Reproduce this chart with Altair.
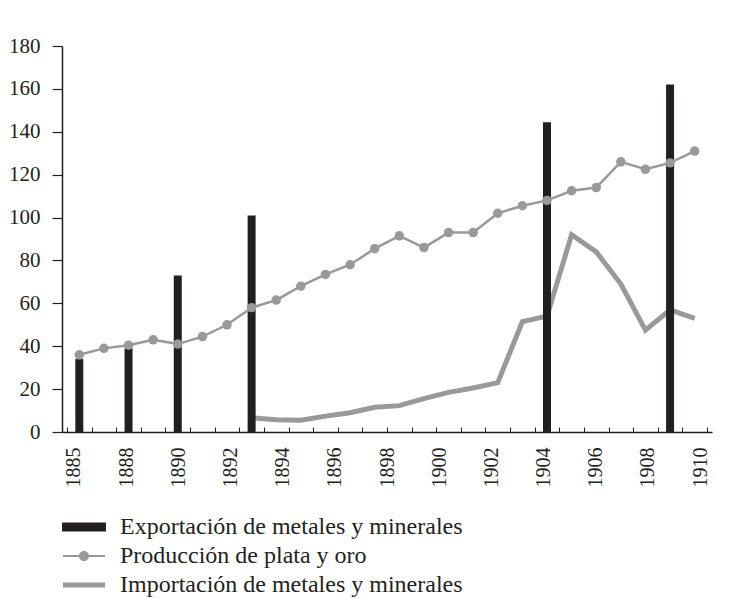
import altair as alt
import pandas as pd

# ---------------- data ----------------
indices = list(range(26))
tick_labels = ["1885", "1888", "1890", "1892", "1894", "1896", "1898",
               "1900", "1902", "1904", "1906", "1908", "1910"]

produccion = [36, 39, 40.5, 43, 41, 44.5, 50, 58, 61.5, 68, 73.5, 78, 85.5,
              91.5, 86, 93, 93, 102, 105.5, 108, 112.5, 114, 126, 122.5, 125.5, 131]

exportacion_idx = [0, 2, 4, 7, 19, 24]
exportacion = [34, 39, 73, 101, 144.5, 162]

importacion = [None] * 7 + [6.6, 5.7, 5.5, 7.4, 9, 11.5, 12.3, 15.6, 18.5, 20.5,
                            23, 51.5, 54, 92, 84, 69, 47.5, 57, 53]

S_EXP = "Exportación de metales y minerales"
S_PROD = "Producción de plata y oro"
S_IMP = "Importación de metales y minerales"
series = [S_EXP, S_PROD, S_IMP]

# ---------------- style ----------------
W, H = 650, 386
DARK = "#231f20"
GREY = "#999999"
FONT = "Liberation Serif"

prod_df = pd.DataFrame({"i": indices, "v": produccion})
exp_df = pd.DataFrame({"i": exportacion_idx, "v": exportacion})
imp_df = pd.DataFrame({"i": indices, "v": importacion}).dropna()
lab_df = pd.DataFrame({"label": tick_labels})
leg_df = pd.DataFrame({"serie": series})

xq = alt.X(
    "i:Q",
    scale=alt.Scale(domain=[-0.5, len(indices) - 0.5], nice=False, zero=False),
    axis=alt.Axis(orient="top", offset=-H, values=[k - 0.5 for k in range(len(indices) + 1)],
                  labels=False, domain=False, ticks=True, tickSize=5, tickColor=DARK,
                  tickWidth=1, grid=False, title=None),
)
yq = alt.Y(
    "v:Q",
    scale=alt.Scale(domain=[0, 180], nice=False),
    axis=alt.Axis(values=list(range(0, 181, 20)), tickSize=10, tickWidth=1.2,
                  labelPadding=12, domainColor=DARK, domainWidth=1.5, tickColor=DARK,
                  labelFont=FONT, labelColor=DARK,
                  labelFontSize=21, grid=False, title=None),
)

imp_line = alt.Chart(imp_df).mark_line(color=GREY, strokeWidth=5).encode(x=xq, y=yq)
bars = alt.Chart(exp_df).mark_bar(size=8, color=DARK).encode(x=xq, y=yq)
prod_line = alt.Chart(prod_df).mark_line(color=GREY, strokeWidth=2.5).encode(x=xq, y=yq)
prod_pts = alt.Chart(prod_df).mark_circle(color=GREY, size=90, opacity=1).encode(x=xq, y=yq)

main = alt.layer(imp_line, bars, prod_line, prod_pts)

labels_layer = alt.Chart(lab_df).mark_point(opacity=0).encode(
    x=alt.X("label:O", sort=None,
            scale=alt.Scale(type="point", padding=0.23),
            axis=alt.Axis(orient="bottom", labelAngle=270, ticks=False, domain=True,
                          domainColor=DARK, domainWidth=1.5, labelPadding=15,
                          labelFont=FONT, labelColor=DARK,
                          labelFontSize=20, title=None, grid=False))
)

paths = [
    "M-1.83,-0.38H1.83V0.38H-1.83Z",
    "M-1.75,-0.09H1.75V0.09H-1.75Z M0.42,0A0.42,0.42,0,1,1,-0.42,0A0.42,0.42,0,1,1,0.42,0Z",
    "M-1.75,-0.21H1.75V0.21H-1.75Z",
]

legend_def = alt.Legend(orient="none", legendX=10, legendY=469, title=None,
                        symbolSize=576, symbolStrokeWidth=0, symbolOpacity=1,
                        labelOffset=24, rowPadding=5, padding=0,
                        labelFont=FONT, labelFontSize=24, labelColor=DARK,
                        labelLimit=600)

legend_layer = alt.Chart(leg_df).transform_filter("false").mark_point(
    filled=True, opacity=1).encode(
    color=alt.Color("serie:N", scale=alt.Scale(domain=series, range=[DARK, GREY, GREY]),
                    legend=legend_def),
    shape=alt.Shape("serie:N", scale=alt.Scale(domain=series, range=paths),
                    legend=legend_def),
)

chart = alt.layer(main, labels_layer, legend_layer).resolve_scale(
    x="independent"
).properties(
    width=W, height=H,
    padding={"top": 27, "left": 0, "right": 5, "bottom": 0},
    background="white",
).configure_view(stroke=None).configure_axis(
    labelFont=FONT, labelColor=DARK
)

chart.save("out.html", embed_options={"renderer": "svg", "actions": False})
